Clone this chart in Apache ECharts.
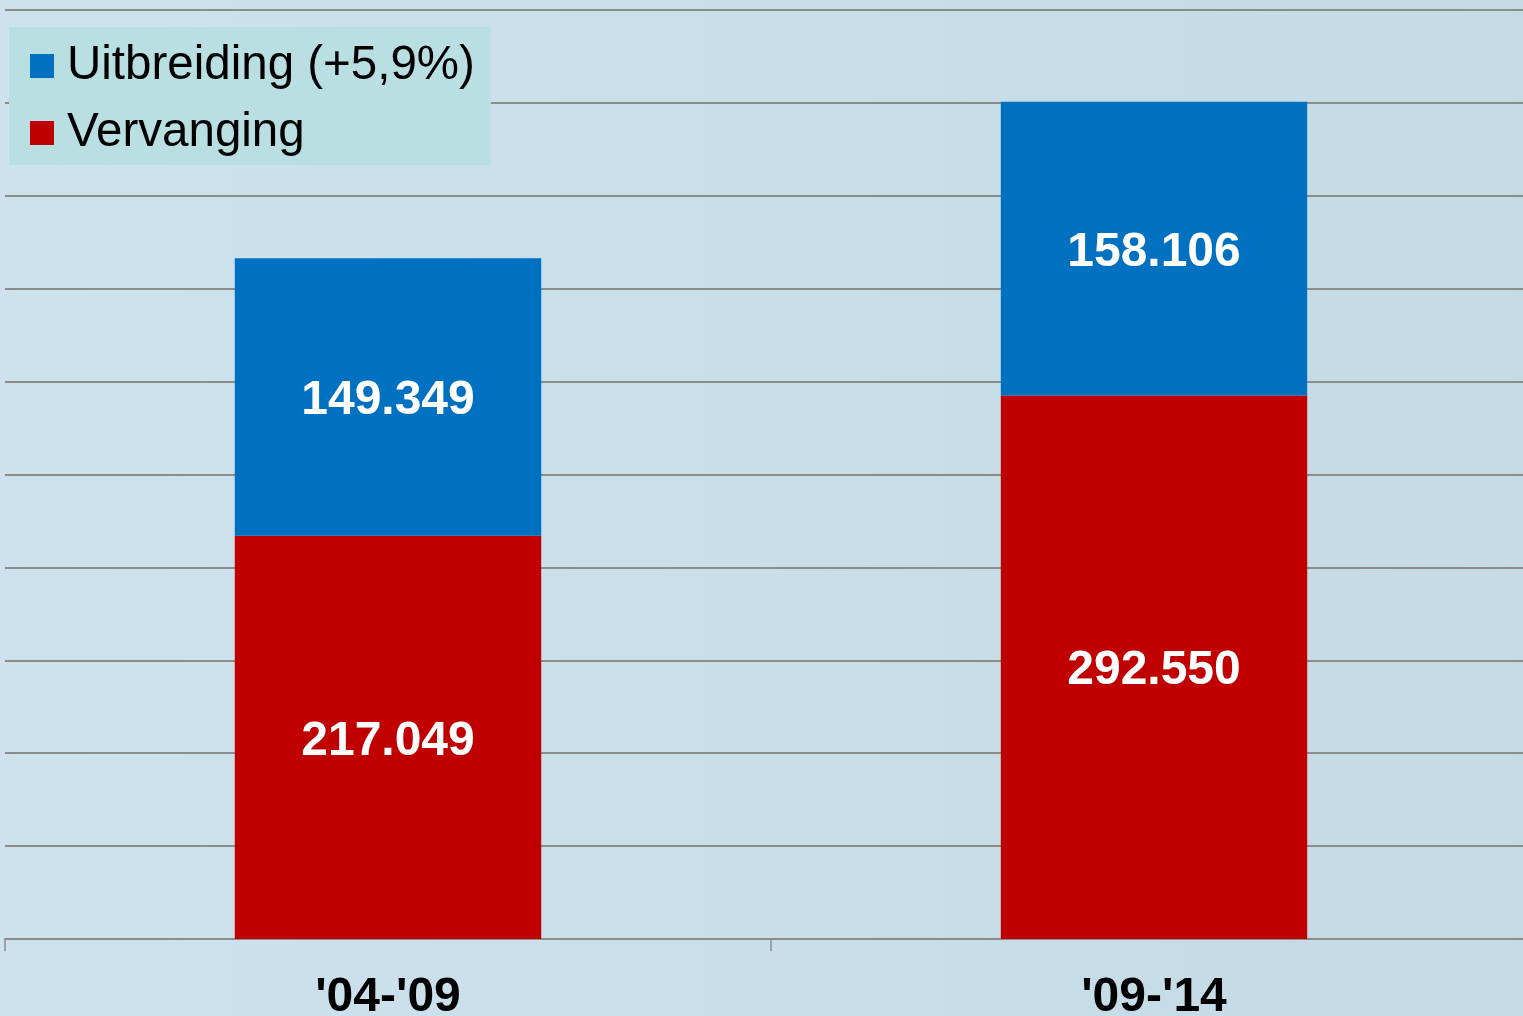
<!DOCTYPE html>
<html>
<head>
<meta charset="utf-8">
<script src="https://cdn.jsdelivr.net/npm/echarts@6/dist/echarts.min.js"></script>
<style>
html,body{margin:0;padding:0;}
#chart{width:1523px;height:1016px;}
</style>
</head>
<body>
<div id="chart"></div>
<script>
const categories = ["'04-'09", "'09-'14"];
const vervanging = [217049, 292550];
const uitbreiding = [149349, 158106];
const seriesNames = ['Uitbreiding (+5,9%)', 'Vervanging'];

function fmt(v) {
  return String(v).replace(/\B(?=(\d{3})+(?!\d))/g, '.');
}

const chart = echarts.init(document.getElementById('chart'));
const labelStyle = {
  show: true,
  position: 'inside',
  offset: [0, 4],
  color: '#ffffff',
  fontFamily: 'Liberation Sans, Arial, sans-serif',
  fontWeight: 'bold',
  fontSize: 48,
  formatter: p => fmt(p.value)
};
chart.setOption({
  backgroundColor: {
    type: 'linear', x: 0, y: 0, x2: 1, y2: 0,
    colorStops: [{offset: 0, color: '#cde2ec'}, {offset: 1, color: '#c4dae4'}]
  },
  animation: false,
  grid: {left: 5, width: 1532, top: 10, height: 929, containLabel: false, outerBoundsMode: 'none'},
  legend: {
    data: seriesNames,
    orient: 'vertical',
    left: 9,
    top: 27,
    backgroundColor: '#b9dfe3',
    padding: [12, 16, 5, 21],
    itemGap: 13,
    itemWidth: 24,
    itemHeight: 24,
    icon: 'rect',
    textStyle: {
      fontFamily: 'Liberation Sans, Arial, sans-serif',
      fontSize: 47.5,
      lineHeight: 54,
      color: '#000000',
      padding: [0, 0, 0, 8]
    }
  },
  xAxis: {
    type: 'category',
    data: categories,
    axisLine: {lineStyle: {color: '#8c8c8c', width: 2}},
    axisTick: {show: true, length: 12, lineStyle: {color: '#8c8c8c', width: 1.5}},
    axisLabel: {
      margin: 35,
      color: '#000000',
      fontFamily: 'Liberation Sans, Arial, sans-serif',
      fontWeight: 'bold',
      fontSize: 48
    }
  },
  yAxis: {
    type: 'value',
    min: 0,
    max: 500000,
    interval: 50000,
    axisLine: {show: false},
    axisTick: {show: false},
    axisLabel: {show: false},
    splitLine: {lineStyle: {color: '#8c8c8c', width: 2}}
  },
  series: [
    {
      name: 'Vervanging',
      type: 'bar',
      stack: 'total',
      data: vervanging,
      barWidth: '40%',
      itemStyle: {color: '#c00000'},
      label: labelStyle
    },
    {
      name: 'Uitbreiding (+5,9%)',
      type: 'bar',
      stack: 'total',
      data: uitbreiding,
      barWidth: '40%',
      itemStyle: {color: '#0070c0'},
      label: labelStyle
    }
  ]
});
</script>
</body>
</html>
